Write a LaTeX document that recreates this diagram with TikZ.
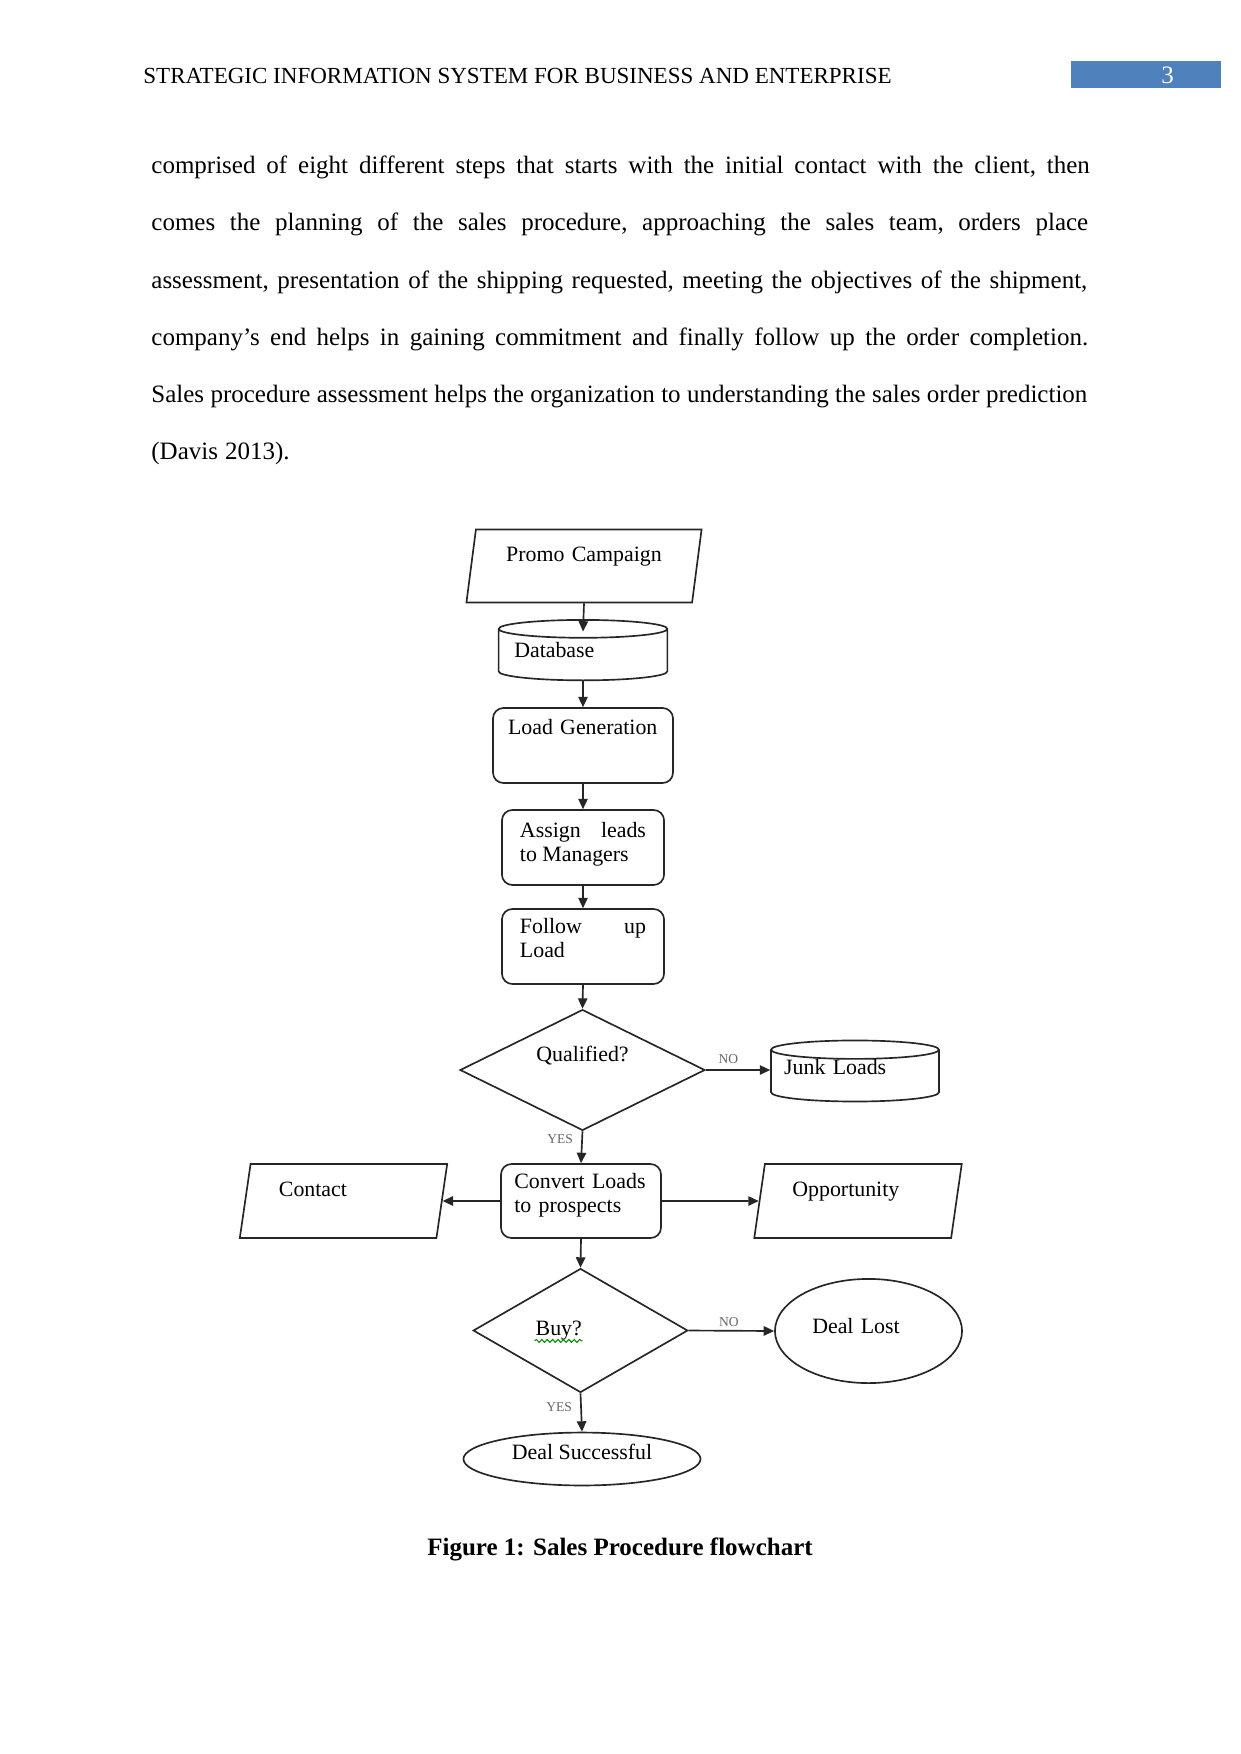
\documentclass[tikz,border=0pt]{standalone}
\usepackage{fontspec}
\setmainfont{Liberation Serif}
\usepackage{tikz}
\usetikzlibrary{arrows.meta, positioning, shapes.geometric, decorations.pathmorphing}

\definecolor{pageblue}{HTML}{4F81BD}
\newcommand{\flowfont}{\fontsize{10.5}{11.5}\selectfont}
\newcommand{\bodyfont}{\fontsize{12}{14}\selectfont}
\hyphenpenalty=10000
\exhyphenpenalty=10000

% words of the paragraph, line by line
\newcommand{\wordsa}{comprised,of,eight,different,steps,that,starts,with,the,initial,contact,with,the,{client,},then}
\newcommand{\wordsb}{comes,the,planning,of,the,sales,{procedure,},approaching,the,sales,{team,},orders,place}
\newcommand{\wordsc}{{assessment,},presentation,of,the,shipping,{requested,},meeting,the,objectives,of,the,{shipment,}}
\newcommand{\wordsd}{company’s,end,helps,in,gaining,commitment,and,finally,follow,up,the,order,completion.}
\newcommand{\wordse}{Sales,procedure,assessment,helps,the,organization,to,understanding,the,sales,order,prediction}
\newcommand{\wordsf}{{(Davis},{2013).}}

% gap between the words of a justified line (measured here, outside the picture)
\newlength{\wordsum}
\newcount\wordcnt
\newcommand{\setgap}[3]{% #1 line name, #2 line width, #3 words
  \global\wordsum=0pt \global\wordcnt=0
  \foreach \w in #3 {\setbox0=\hbox{\bodyfont\w}\global\advance\wordsum by \wd0 \global\advance\wordcnt by 1}%
  \pgfmathsetlengthmacro{\tmpgap}{(#2-\wordsum)/(\the\wordcnt-1)}%
  \expandafter\xdef\csname gap#1\endcsname{\tmpgap}}
\setgap{a}{444.9pt}{\wordsa}
\setgap{b}{444.9pt}{\wordsb}
\setgap{c}{444.9pt}{\wordsc}
\setgap{d}{444.9pt}{\wordsd}
\setgap{e}{444.9pt}{\wordse}
\expandafter\gdef\csname gapf\endcsname{3pt}

% one line of the paragraph, word by word
\newcommand{\bodyline}[3]{% #1 line name, #2 y, #3 words
  \edef\thisgap{\csname gap#1\endcsname}%
  \foreach \w [count=\i, remember=\i as \j (initially 0)] in #3 {
    \ifnum\i=1 \node[word] (#1w\i) at (151,#2) {\w};
    \else \node[word] (#1w\i) at ([xshift=\thisgap]#1w\j.base east) {\w}; \fi
  }}

\begin{document}
\begin{tikzpicture}[
    x=0.48pt, y=-0.48pt,
    % Styles for the flowchart
    flow/.style={line width=0.8pt, draw=black!85, -{Triangle[length=5pt, width=4.5pt]}},
    proc/.style={draw=black!85, line width=0.8pt, rounded corners=5pt, font=\flowfont, align=left, inner sep=0pt},
    inout/.style={trapezium, trapezium left angle=79, trapezium right angle=101, trapezium stretches=true,
        draw=black!85, line width=0.8pt, font=\flowfont, align=left, inner sep=0pt},
    store/.style={cylinder, shape border rotate=90, aspect=0.13, draw=black!85, line width=0.8pt,
        font=\flowfont, align=left, inner xsep=0pt, inner ysep=-8pt},
    decide/.style={diamond, aspect=2, draw=black!85, line width=0.8pt, font=\flowfont, align=center, inner sep=0pt},
    term/.style={ellipse, draw=black!85, line width=0.8pt, font=\flowfont, align=left, inner sep=0pt},
    yn/.style={font=\fontsize{6.5}{7}\selectfont, text=black!60, inner sep=1.5pt},
    spell/.style={draw=green!55!black, line width=0.5pt, decorate, decoration={snake, amplitude=0.7pt, segment length=2.6pt}},
    word/.style={anchor=base west, inner sep=0pt, font=\bodyfont}
]
    \fill[white] (0,0) rectangle (1241,1754);
    \useasboundingbox (0,0) rectangle (1241,1754);

    % --- Header ---
    \node[anchor=base west, inner sep=0pt, font=\fontsize{11.05}{13}\selectfont] (head) at (143,83)
        {STRATEGIC INFORMATION SYSTEM FOR BUSINESS AND ENTERPRISE};
    \node[fill=pageblue, minimum width=72pt, minimum height=13pt, inner sep=0pt] (pgbox) at (1146,74.5) {};
    \node[anchor=base, inner sep=0pt, text=white, font=\fontsize{12}{14}\selectfont] (pgnum) at (1167.5,83) {3};

    % --- Body text ---
    \bodyline{a}{173}{\wordsa}
    \bodyline{b}{230}{\wordsb}
    \bodyline{c}{288}{\wordsc}
    \bodyline{d}{345}{\wordsd}
    \bodyline{e}{402}{\wordse}
    \bodyline{f}{459}{\wordsf}

    % --- Main column ---
    \node[inout, minimum width=113pt, minimum height=35pt, text width=82pt, align=center] (promo) at (584,566)
        {Promo Campaign\\\mbox{}};
    \node[store, minimum width=81pt, minimum height=29pt, text width=66pt] (db) at (583,655)
        {Database\\[-7pt]\mbox{}};
    \node[proc, minimum width=86.4pt, minimum height=36pt, text width=72pt] (lg) at (583,745.5)
        {Load Generation\\[6pt]\mbox{}};
    \node[proc, minimum width=77.8pt, minimum height=36pt, text width=60.5pt, align=justify] (assign) at (583,847.5)
        {Assign leads to Managers\\[-6.5pt]\mbox{}};
    \node[proc, minimum width=77.8pt, minimum height=36pt, text width=60.5pt, align=justify] (follow) at (583,946.5)
        {Follow up Load\\[-3pt]\mbox{}};
    \node[decide, minimum width=117.6pt, minimum height=58pt] (qual) at (582.5,1070)
        {Qualified?\\[4pt]\mbox{}};
    \node[proc, minimum width=76.8pt, minimum height=35.5pt, text width=64pt] (conv) at (581,1201)
        {Convert Loads\\to prospects\\[-4pt]\mbox{}};
    \node[decide, minimum width=103pt, minimum height=59.5pt, text width=43pt, align=left] (buy) at (580.5,1330.5) {Buy?};
    \node[term, minimum width=113.8pt, minimum height=25.4pt, align=center] (success) at (582,1459)
        {Deal Successful\\[-5pt]\mbox{}};

    % --- Side nodes ---
    \node[store, minimum width=80.6pt, minimum height=29.3pt, text width=68pt] (junk) at (855,1076)
        {Junk Loads\\[-3pt]\mbox{}};
    \node[inout, minimum width=100pt, minimum height=35.5pt, text width=62pt] (contact) at (343.5,1201)
        {Contact\\\mbox{}};
    \node[inout, minimum width=100pt, minimum height=35.5pt, text width=63pt] (opp) at (858,1201)
        {Opportunity\\\mbox{}};
    \node[term, minimum width=89.8pt, minimum height=50pt, text width=54pt] (lost) at (868.5,1331)
        {Deal Lost\\[-7pt]\mbox{}};

    % --- Connectors ---
    \draw[flow] (promo.south) -- ([yshift=-6pt]db.north);
    \draw[flow] (db.south) -- (lg.north);
    \draw[flow] (lg.south) -- (assign.north);
    \draw[flow] (assign.south) -- (follow.north);
    \draw[flow] (follow.south) -- (qual.north);
    \draw[flow] (qual.east) -- node[yn, above=1pt, pos=0.35] {NO} (qual.east -| junk.west);
    \draw[flow] (qual.south) -- node[yn, left=2.5pt, pos=0.23] {YES} (conv.north);
    \draw[flow] (conv.west) -- (contact.east);
    \draw[flow] (conv.east) -- (opp.west);
    \draw[flow] (conv.south) -- (buy.north);
    \draw[flow] (buy.east) -- node[yn, above, pos=0.47] {NO} (lost.west);
    \draw[flow] (buy.south) -- node[yn, left=2.5pt, pos=0.36] {YES} (success.north);
    \draw[spell] ([xshift=-22pt,yshift=-5pt]buy.center) -- ++(23pt,0);

    % --- Caption ---
    \node[anchor=base, inner sep=0pt, font=\fontsize{12}{14}\bfseries] (cap) at (620,1555) {Figure 1: Sales Procedure flowchart};
\end{tikzpicture}
\end{document}
